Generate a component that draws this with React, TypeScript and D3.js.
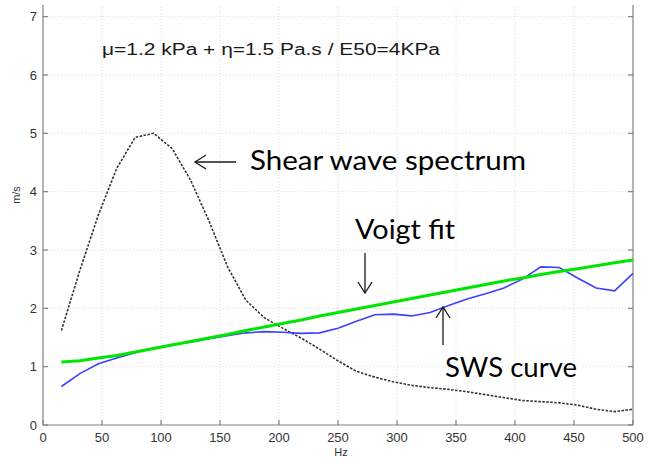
import * as d3 from 'd3'

// frequency samples (Hz) and the three curves
const freqs = [15.6, 31.2, 46.9, 62.5, 78.1, 93.75, 109.4, 125, 140.6, 156.25, 171.9, 187.5, 203, 218.75, 234.4, 250,
  265.6, 281.25, 296.9, 312.5, 328, 343.75, 359.4, 375, 390.6, 406.25, 421.9, 437.5, 453, 468.75, 484.4, 500]
const spectrum = [1.62, 2.65, 3.6, 4.4, 4.93, 5.0, 4.74, 4.2, 3.5, 2.72, 2.14, 1.84, 1.66, 1.49, 1.3, 1.1,
  0.92, 0.82, 0.74, 0.68, 0.64, 0.61, 0.57, 0.52, 0.47, 0.42, 0.40, 0.38, 0.34, 0.27, 0.23, 0.27]
const sws = [0.66, 0.88, 1.05, 1.15, 1.24, 1.32, 1.38, 1.42, 1.48, 1.53, 1.58, 1.60, 1.59, 1.57, 1.58, 1.66,
  1.78, 1.89, 1.90, 1.87, 1.93, 2.05, 2.16, 2.25, 2.35, 2.50, 2.71, 2.70, 2.52, 2.35, 2.30, 2.60]
const voigt = [1.08, 1.10, 1.15, 1.19, 1.25, 1.31, 1.37, 1.43, 1.49, 1.55, 1.62, 1.68, 1.74, 1.80, 1.87, 1.93,
  1.99, 2.05, 2.11, 2.17, 2.23, 2.29, 2.35, 2.41, 2.47, 2.52, 2.58, 2.63, 2.68, 2.73, 2.78, 2.83]

const xTicks = [0, 50, 100, 150, 200, 250, 300, 350, 400, 450, 500]
const yTicks = [0, 1, 2, 3, 4, 5, 6, 7]

const title = 'μ=1.2 kPa + η=1.5 Pa.s / E50=4KPa'

const width = 651
const height = 461
const margin = { top: 5, right: 18, bottom: 36, left: 43 }

const App = () => {
  const x = d3.scaleLinear().domain([0, 500]).range([margin.left, width - margin.right])
  const y = d3.scaleLinear().domain([0, 7.2]).range([height - margin.bottom, margin.top])
  const line = d3.line<number>().x((d, i) => x(freqs[i])).y(d => y(d))

  const x0 = x(0), x1 = x(500), y0 = y(0), yTop = y(7.2)
  const axisColor = '#808080'
  const tickFont = 'Liberation Sans, Arial, sans-serif'
  const noteFont = 'Lato, Open Sans, sans-serif'

  return (
    <div style={{ position: 'fixed', left: 0, top: 0 }}>
      <svg width={width} height={height} style={{ display: 'block', background: '#fff' }}>
        {/* grid */}
        <g stroke="#dcdcdc" strokeWidth={1} strokeDasharray="1,2">
          {xTicks.slice(1, -1).map(t => (
            <line key={'gx' + t} x1={x(t)} x2={x(t)} y1={y0} y2={yTop} />
          ))}
          {yTicks.slice(1).map(t => (
            <line key={'gy' + t} x1={x0} x2={x1} y1={y(t)} y2={y(t)} />
          ))}
        </g>

        {/* axes */}
        <g stroke={axisColor} strokeWidth={1.2} fill="none">
          <line x1={x0} x2={x0} y1={y0} y2={yTop} />
          <line x1={x1} x2={x1} y1={y0} y2={yTop} />
          <line x1={x0} x2={x1} y1={y0} y2={y0} />
          {xTicks.map(t => (
            <line key={'tx' + t} x1={x(t)} x2={x(t)} y1={y0} y2={y0 - 5} />
          ))}
          {yTicks.map(t => (
            <g key={'ty' + t}>
              <line x1={x0} x2={x0 + 5} y1={y(t)} y2={y(t)} />
              <line x1={x1} x2={x1 - 5} y1={y(t)} y2={y(t)} />
            </g>
          ))}
        </g>
        <g fontFamily={tickFont} fontSize={13} fill="#333">
          {xTicks.map(t => (
            <text key={'lx' + t} x={x(t)} y={y0 + 17} textAnchor="middle">{t}</text>
          ))}
          {yTicks.map(t => (
            <text key={'ly' + t} x={x0 - 6} y={y(t) + 4.5} textAnchor="end">{t}</text>
          ))}
          <text x={(x0 + x1) / 2 + 3} y={y0 + 31} textAnchor="middle" fontSize={11}>Hz</text>
          <text transform={`translate(20,${(y0 + yTop) / 2 - 20}) rotate(-90)`} textAnchor="middle" fontSize={11}>m/s</text>
        </g>

        {/* curves */}
        <path d={line(spectrum) || ''} fill="none" stroke="#333" strokeWidth={1.6} strokeDasharray="2.5,1.5" />
        <path d={line(sws) || ''} fill="none" stroke="#3f3fff" strokeWidth={1.6} />
        <path d={line(voigt) || ''} fill="none" stroke="#00e600" strokeWidth={3} />

        {/* title */}
        <text x={102} y={55} fontFamily={tickFont} fontSize={16} fill="#1a1a1a" textLength={338} lengthAdjust="spacingAndGlyphs">{title}</text>

        {/* annotations */}
        <g stroke="#1a1a1a" strokeWidth={1.3} fill="none">
          <line x1={195} x2={236} y1={162} y2={162} />
          <polyline points="206,155 195,162 206,169" />
          <line x1={365} x2={365} y1={253} y2={293} />
          <polyline points="358,282 365,293 372,282" />
          <line x1={443} x2={443} y1={345} y2={307} />
          <polyline points="436,318 443,307 450,318" />
        </g>
        <g fontFamily={noteFont} fontSize={27} fill="#000">
          <text x={250} y={170} textLength={276} lengthAdjust="spacingAndGlyphs">Shear wave spectrum</text>
          <text x={355} y={239} textLength={100} lengthAdjust="spacingAndGlyphs">Voigt fit</text>
          <text x={445} y={377} textLength={132} lengthAdjust="spacingAndGlyphs">SWS curve</text>
        </g>
      </svg>
    </div>
  )
}

export default App
